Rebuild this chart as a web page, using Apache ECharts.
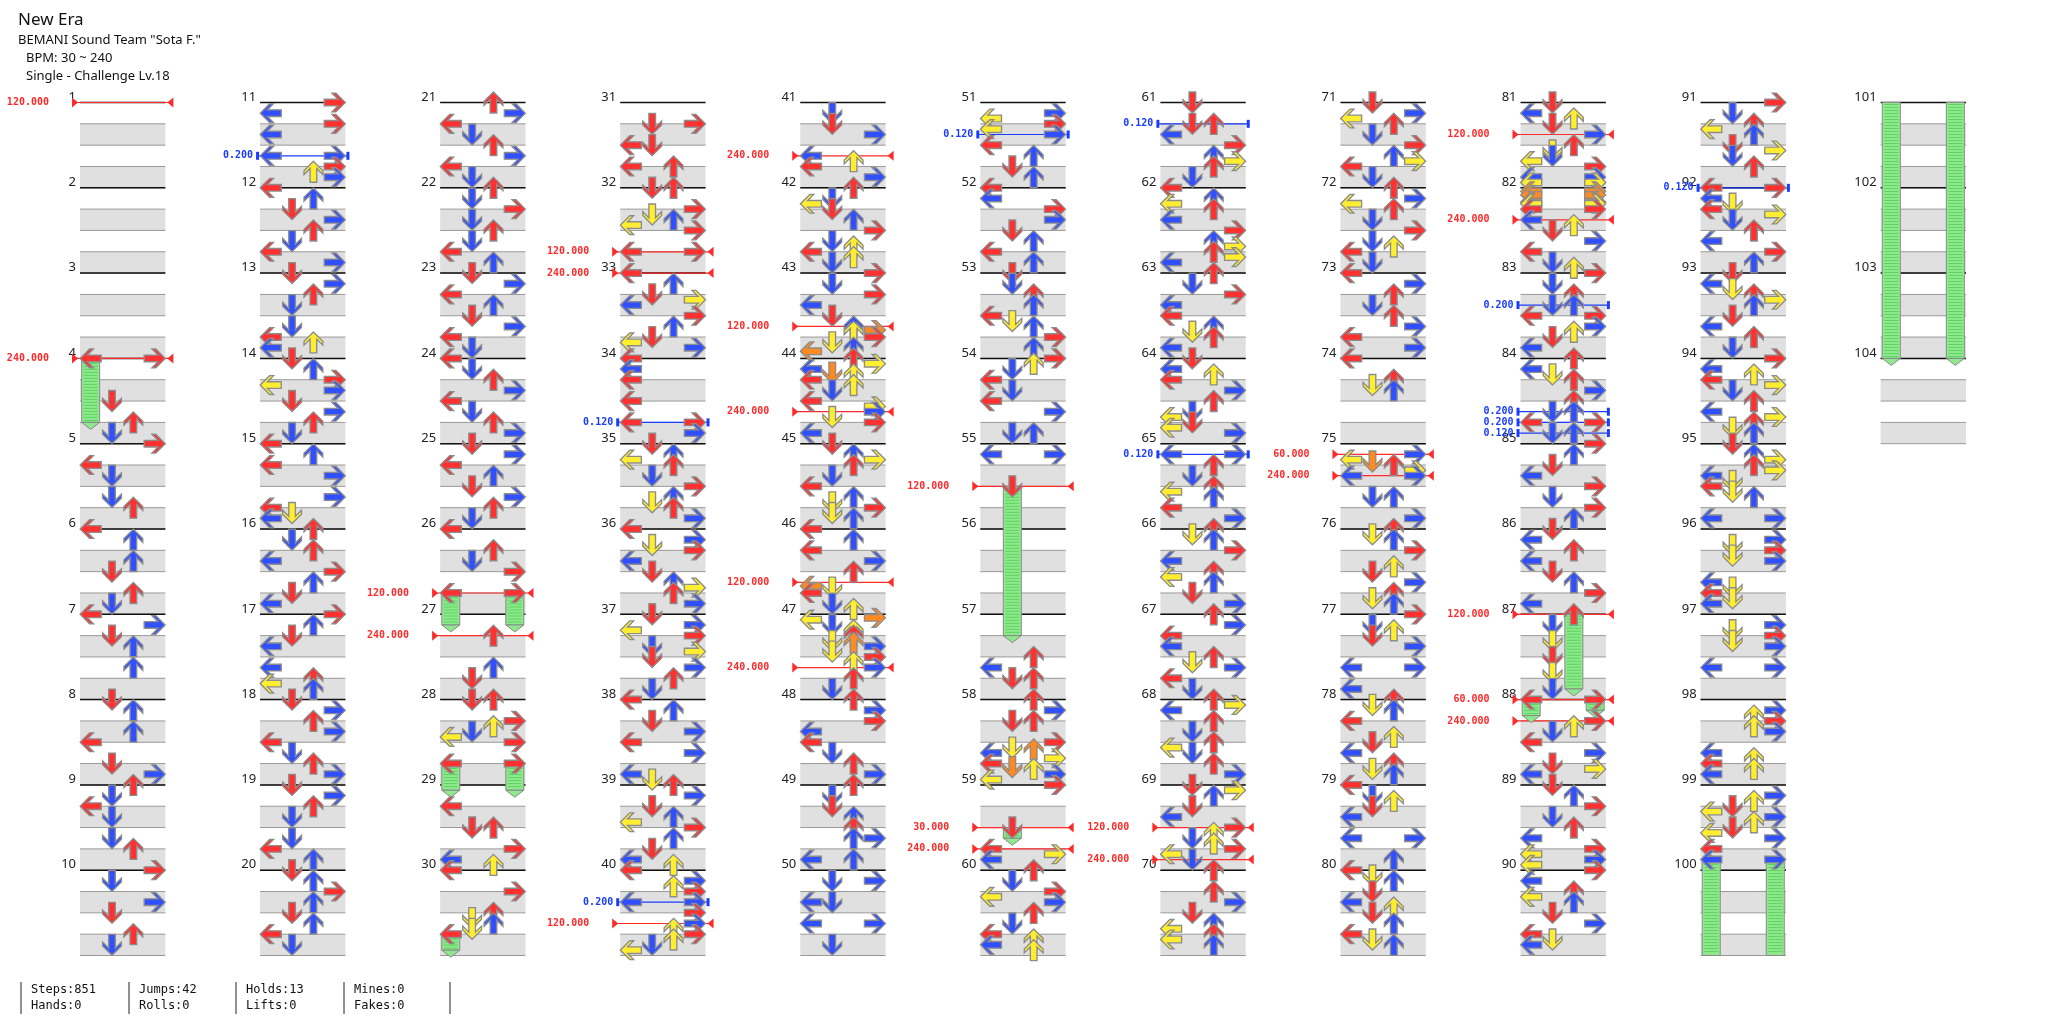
<!DOCTYPE html>
<html><head><meta charset="utf-8">
<script src="https://cdn.jsdelivr.net/npm/echarts@6/dist/echarts.min.js"></script>
<style>html,body{margin:0;padding:0;background:#fff}#c{width:2046px;height:1024px}</style>
</head><body><div id="c"></div>
<script>
// ---- data: notes per measure, "pos16 lanes" tokens ----
const col1 = ["", "", "", "0LR 8D 12U 14D", "0R 4L 6D 10D 12U", "0L 2U 6U 8D 12U 14D", "0L 2R 4D 6U 10U", "0D 2U 6U 8L 12D 14R", "0U 2D 4L 6D 10D 12U", "0R 2D 6R 8D 12U 14D"];
const col2 = ["0R 2L 4R 6L 10LR 12R 13U 14R", "0L 2U 4D 6R 8U 10D 12L 14R", "0D 2R 4U 6D 10D 12L 13U 14L", "0D 2U 4R 5L 6R 8D 10R 12U 14D", "0L 2U 4L 6R 10R 12L 13D 14L", "0U 2D 4U 6L 8R 10U 12D 14L", "0R 2U 4D 6L 10L 12U 13L 14U", "0D 2R 4U 6R 8L 10D 12U 14R", "0D 2R 4U 6D 10D 12L 14U", "0D 2U 4R 6U 8D 10U 12L 14D"];
const col3 = ["0U 2R 4L 6D 8U 10R 12L 14D", "0U 2D 4R 6D 8U 10D 12L 14U", "0D 2R 4L 6U 8D 10R 12L 14D", "0L 2D 4U 6R 8L 10D 12U 14R", "0D 2R 4L 6U 8D 10R 12U 14D", "0L 4U 6D 8R 12LR", "4U 10U 12D", "0DU 4R 5U 6D 7L 8R 12LR", "4L 8DU 12R 14L 15U", "0L 4R 8U 9D 10U 11D 12L"];
const col4 = ["4DR 8LD 12LU", "0DU 4R 5D 6U 7L 8R 12LR", "0L 2U 4D 5R 6L 8R 10U 12D 13L 14R", "0L 2L 4L 8L 12LR 14R", "0D 2U 3L 4U 6D 8R 10U 11D 12U 14R", "0L 2R 3D 4R 6L 8D 10U 11R 12U 14R", "0D 2R 3L 4R 6D 7R 8D 10R 12U 14D", "0L 2U 4D 6R 8L 10R 14L 15D", "0U 2R 4D 6U 7L 8R 10U 12D 14L 15U", "0L 2R 3U 4R 6LR 8R 10R 11U 12R 13U 14D 15L"];
const col5 = ["2D 4D 6R 10L 11U 12L 14R", "0U 2D 3L 4D 6U 8R 10D 11U 12L 13U 14D", "0R 2D 4R 6L 8D 10U 10.67R 11U 12R 13D 14U 14.67L", "0U 1R 2L 2.67D 3U 4L 5U 6D 8L 9R 10R 11D 12R 14L", "0D 2U 3R 4U 6D 8L 10U 11D 12R 13D 14U", "0L 2U 4L 6R 8U 10.67L 11D 12L 14D 15U", "0.67R 1L 2D 3U 4U 5D 5.33U 6R 7D 8R 9U 10R 12U 14D", "0U 2R 4R 6L 8L 10D 12U 14R", "0U 2D 4D 6U 8U 10UR 14LU", "2DR 6LD 10LR 14D"];
const col6 = ["2R 3L 4R 5L 6R 8L 10U 12D 14U", "0L 2L 4R 6R 8D 10U 12L 14U", "0D 2D 4U 6U 8L 9D 10U 12R 14U", "0R 1U 2D 4L 6D 8L 10R 14DU", "2LR 8D", "", "8U 10L 12DU", "0U 2R 4DU 8R 9D 9.33U 10L 11R 12L 12.67D 13U 14R 15L", "0R 8D 12L 13R 14L", "0U 2D 4R 5L 6R 8U 10D 12L 13U 14L 15U"];
const col7 = ["0D 4DU 6L 8R 10U 11R 12U 14D", "0L 2U 3L 4U 6L 8R 10U 11R 12U 13R 14L", "0U 2D 4R 6L 8L 10U 11D 12U 14L", "0D 2L 3U 4L 6R 8U 10D 11L 12D 13L 14R", "2LR 4U 6D 8U 9L 10U 12L 14R", "0U 1D 2U 4R 6L 8U 9L 10U 12D 14R", "0U 2R 4L 6L 8U 9D 10R 12L 14D", "0U 1R 2L 4U 6D 8U 9L 10D 12U 14R", "0D 1R 2U 4D 6L 8R 9U 10D 11U 12R 13L 14D", "0U 4U 6R 8D 10U 11L 12U 13L 14U"];
const col8 = ["0D 2R 3L 4U 6D 8R 10U 11R 12L 14D", "0U 2R 3L 4U 6D 8R 10D 11U 12L 14D", "0L 2R 4U 6D 8U 10R 12L 14R", "0L 4U 5D 6U", "2R 3L 3.33D 4U 5R 6LR 10DU 14R", "0U 1D 2U 4R 7U 8D 10R 12U 13D 14U", "0R 2D 3U 4D 6R 10LR 14L", "0U 1D 2U 4L 7U 8D 10L 12U 13D 14U", "0L 2D 3U 4D 6L 10LR 14U", "0L 1D 2U 4D 6L 7U 8D 10U 12L 13D 14U"];
const col9 = ["0D 2L 3U 4D 6R 8U 9D 10D 11L 12R 14LR 15LR", "0.67LR 1.33LR 2.67LR 3LR 4LR 6L 7U 8D 10R 12L 14D 15U", "0R 2D 4U 6DU 8LR 10R 11U 12D 14L", "0U 2L 3D 4U 6R 8U 10DU 12LR 14DU", "0R 2U 4D 6L 8R 10D 12R 14U", "0D 2L 4U 6L 8D 10U 12R 14L", "0U 2D 5D 8D 11D 14D", "0LR 4R 5U 6D 8L 10R 12D 13R 14L", "0D 2U 4R 6D 8U 10L 12R 13L 14R 15L", "0R 2L 4U 5L 6U 8D 10R 12L 13D 14L"];
const col10 = ["0R 2D 4U 5L 6U 8D 9R 10D 12U", "0LR 2L 3D 4L 5R 6D 8U 10L 12R 14U", "0D 2L 3D 4U 5R 6U 8D 10L 12U 14D", "0R 2L 3U 4L 5R 6D 8U 10L 11R 12U 13D 14U", "0D 2U 3R 4U 5R 6L 7D 8L 9D 10U 14LR", "2R 3D 4R 5D 6R 10L 11D 12L 13D 14L", "2R 3D 4R 5D 6R 10LR", "2R 3U 4R 5U 6R 10L 11U 12L 13U 14L", "2R 3U 4D 5L 6R 7U 8D 9L 10R 12L 14LR", ""];
const col11 = ["", "", "", ""];
// holds: [measure, pos16, lane, endMeasure, endPos16]
const holds = [[4,0,'L',4,12],[26,12,'L',27,2],[26,12,'R',27,2],[28,12,'L',29,1],[28,12,'R',29,1],[30,12,'L',30,15],[55,8,'D',57,4],[59,8,'D',59,10],[87,0,'U',87,14],[88,0,'L',88,3],[88,0,'R',88,2],[99,14,'L',104,0],[99,14,'R',104,0]];
// BPM changes: [measure, pos16, label]
const bpms = [[1,0,"120.000"],[4,0,"240.000"],[26,12,"120.000"],[27,4,"240.000"],[32,12,"120.000"],[33,0,"240.000"],[40,10,"120.000"],[41,10,"240.000"],[43,10,"120.000"],[44,10,"240.000"],[46,10,"120.000"],[47,10,"240.000"],[55,8,"120.000"],[59,8,"30.000"],[59,12,"240.000"],[69,8,"120.000"],[69,14,"240.000"],[75,2,"60.000"],[75,6,"240.000"],[81,6,"120.000"],[82,6,"240.000"],[87,0,"120.000"],[88,0,"60.000"],[88,4,"240.000"]];
// stops: [measure, pos16, label]
const stops = [[11,10,"0.200"],[34,12,"0.120"],[40,6,"0.200"],[51,6,"0.120"],[61,4,"0.120"],[65,2,"0.120"],[83,6,"0.200"],[84,10,"0.200"],[84,12,"0.200"],[84,14,"0.120"],[92,0,"0.120"]];
const headerLines = ["New Era", "BEMANI Sound Team \"Sota F.\"", "BPM: 30 ~ 240", "Single - Challenge Lv.18"];
const footerRows = [["Steps:851","Jumps:42","Holds:13","Mines:0"],["Hands:0","Rolls:0","Lifts:0","Fakes:0"]];

// ---- build ----
const measures = [].concat(col1,col2,col3,col4,col5,col6,col7,col8,col9,col10,col11);
const CS = 8.4375; // column spacing in lane units
const LANES = {L:0,D:1,U:2,R:3};
function place(m,pos){ const c=Math.floor((m-1)/10); return {c, y:(m-1)%10+pos/16}; }
function colorOf(pos){
  if (Math.abs(pos%4)<1e-6) return '#ff3030';
  if (Math.abs(pos%2)<1e-6) return '#3050ff';
  if (Math.abs(pos-Math.round(pos))<1e-6) return '#ffee30';
  return '#ff8a20';
}
const notes=[];
measures.forEach((s,i)=>{
  const m=i+1; if(!s) return;
  s.split(' ').forEach(t=>{
    const mm=t.match(/^([\d.]+)([LDUR]+)$/); if(!mm) return;
    const pos=parseFloat(mm[1]); const p=place(m,pos);
    for(const ch of mm[2]) notes.push([p.c*CS+LANES[ch], p.y, LANES[ch], colorOf(pos)]);
  });
});
const bandData=[];
for(let m=1;m<=104;m++){ const p=place(m,0); bandData.push([p.c, p.y, m]); }
const holdSegs=[];
holds.forEach(h=>{
  const g0=(h[0]-1)*16+h[1], g1=(h[3]-1)*16+h[4];
  let g=g0;
  while(g<g1){
    const c=Math.floor(g/160); const cEnd=(c+1)*160; const e=Math.min(g1,cEnd);
    holdSegs.push([c*CS+LANES[h[2]], (g-c*160)/16, (e-c*160)/16, e===g1?1:0]);
    g=e;
  }
});
const markers=[];
bpms.forEach(b=>{const p=place(b[0],b[1]); markers.push([p.c,p.y,b[2],0]);});
stops.forEach(b=>{const p=place(b[0],b[1]); markers.push([p.c,p.y,b[2],1]);});

const ARROW='M -9.5 0 L -1 -8.5 L 2.5 -8.5 L -3 -3 L 9.5 -3 L 9.5 3 L -3 3 L 2.5 8.5 L -1 8.5 Z';
const ROT=[0, Math.PI/2, -Math.PI/2, Math.PI];

const chart=echarts.init(document.getElementById('c'));
const graphics=[];
headerLines.forEach((t,i)=>graphics.push({type:'text',left:i<2?18:26,top:[12,34,52,70][i],style:{text:t,font:(i===0?'17px':'13px')+' "Noto Sans"',fill:'#111'}}));
[21,129,236,344,450].forEach(x=>graphics.push({type:'line',shape:{x1:x,y1:982,x2:x,y2:1014},style:{stroke:'#222',lineWidth:1}}));
footerRows.forEach((row,r)=>row.forEach((t,k)=>graphics.push({type:'text',left:[31,139,246,354][k],top:984+r*16,style:{text:t,font:'12px "DejaVu Sans Mono"',fill:'#111'}})));

chart.setOption({
  animation:false,
  grid:{left:80,right:80,top:102.5,bottom:68.5},
  xAxis:{type:'value',min:-0.5,max:10*CS+3.5,show:false},
  yAxis:{type:'value',min:0,max:10,inverse:true,show:false},
  graphic:graphics,
  series:[
  {type:'custom',data:bandData,clip:false,z:1,renderItem:(p,api)=>{
    const c=api.value(0), y=api.value(1), m=api.value(2);
    const x0=api.coord([c*CS-0.5,y])[0], x1=api.coord([c*CS+3.5,y])[0];
    const ch=[];
    [1,3].forEach(b=>{
      const ya=api.coord([0,y+b/4])[1], yb=api.coord([0,y+(b+1)/4])[1];
      ch.push({type:'rect',shape:{x:x0,y:ya,width:x1-x0,height:yb-ya},style:{fill:'#e0e0e0'}});
      ch.push({type:'line',shape:{x1:x0,y1:ya,x2:x1,y2:ya},style:{stroke:'#999',lineWidth:1}});
      ch.push({type:'line',shape:{x1:x0,y1:yb,x2:x1,y2:yb},style:{stroke:'#999',lineWidth:1}});
    });
    const ym=api.coord([0,y])[1];
    ch.push({type:'line',shape:{x1:x0,y1:ym,x2:x1,y2:ym},style:{stroke:'#111',lineWidth:1.5}});
    ch.push({type:'text',style:{text:String(m),x:x0-4,y:ym+1,align:'right',verticalAlign:'bottom',font:'13px "Noto Sans"',fill:'#222'}});
    return {type:'group',children:ch};
  }},
  {type:'custom',data:markers,clip:false,z:3,renderItem:(p,api)=>{
    const d=markers[p.dataIndex];
    const c=d[0], y=d[1], lab=d[2], t=d[3];
    const pt=api.coord([c*CS-0.5,y]); const x0=pt[0], ym=pt[1];
    const x1=api.coord([c*CS+3.5,y])[0];
    const col=t?'#1a3cff':'#ff2a2a';
    const ch=[];
    if(!t){
      ch.push({type:'line',shape:{x1:x0-7,y1:ym,x2:x1+7,y2:ym},style:{stroke:col,lineWidth:1.2}});
      ch.push({type:'polygon',shape:{points:[[x0-8,ym-5],[x0-2,ym],[x0-8,ym+5]]},style:{fill:col}});
      ch.push({type:'polygon',shape:{points:[[x1+8,ym-5],[x1+2,ym],[x1+8,ym+5]]},style:{fill:col}});
      ch.push({type:'text',style:{text:lab,x:x0-31,y:ym,align:'right',verticalAlign:'middle',font:'bold 10px "DejaVu Sans Mono"',fill:col}});
    } else {
      ch.push({type:'line',shape:{x1:x0-3,y1:ym,x2:x1+3,y2:ym},style:{stroke:col,lineWidth:1.2}});
      ch.push({type:'rect',shape:{x:x0-4,y:ym-4,width:3,height:8},style:{fill:col}});
      ch.push({type:'rect',shape:{x:x1+1,y:ym-4,width:3,height:8},style:{fill:col}});
      ch.push({type:'text',style:{text:lab,x:x0-7,y:ym,align:'right',verticalAlign:'middle',font:'bold 10px "DejaVu Sans Mono"',fill:col}});
    }
    return {type:'group',children:ch};
  }},
  {type:'custom',data:holdSegs,clip:false,z:4,renderItem:(p,api)=>{
    const x=api.value(0), a=api.coord([x,api.value(1)]), b=api.coord([x,api.value(2)]);
    const w=18, ch=[];
    const yb=b[1];
    const top=a[1];
    ch.push({type:'rect',shape:{x:a[0]-w/2,y:top,width:w,height:yb-top},style:{fill:'#8ee88e',stroke:'#8a8a8a',lineWidth:1}});
    for(let yy=top+2; yy<yb-1; yy+=3) ch.push({type:'line',shape:{x1:a[0]-w/2+2,y1:yy,x2:a[0]+w/2-2,y2:yy},style:{stroke:'#4fd04f',lineWidth:0.8}});
    if(api.value(3)) ch.push({type:'polygon',shape:{points:[[a[0]-w/2,yb],[a[0]+w/2,yb],[a[0],yb+7]]},style:{fill:'#8ee88e',stroke:'#8a8a8a',lineWidth:1}});
    return {type:'group',children:ch};
  }},
  {type:'custom',data:notes,clip:false,z:5,renderItem:(p,api)=>{
    const pt=api.coord([api.value(0),api.value(1)]);
    return {type:'path',x:pt[0],y:pt[1],rotation:ROT[api.value(2)],scaleX:1.05,scaleY:1.05,
      shape:{pathData:ARROW,x:-10,y:-9,width:20,height:18},
      style:{fill:notes[p.dataIndex][3],stroke:'#8c8c8c',lineWidth:1.3}};
  }}
  ]
});
</script></body></html>
